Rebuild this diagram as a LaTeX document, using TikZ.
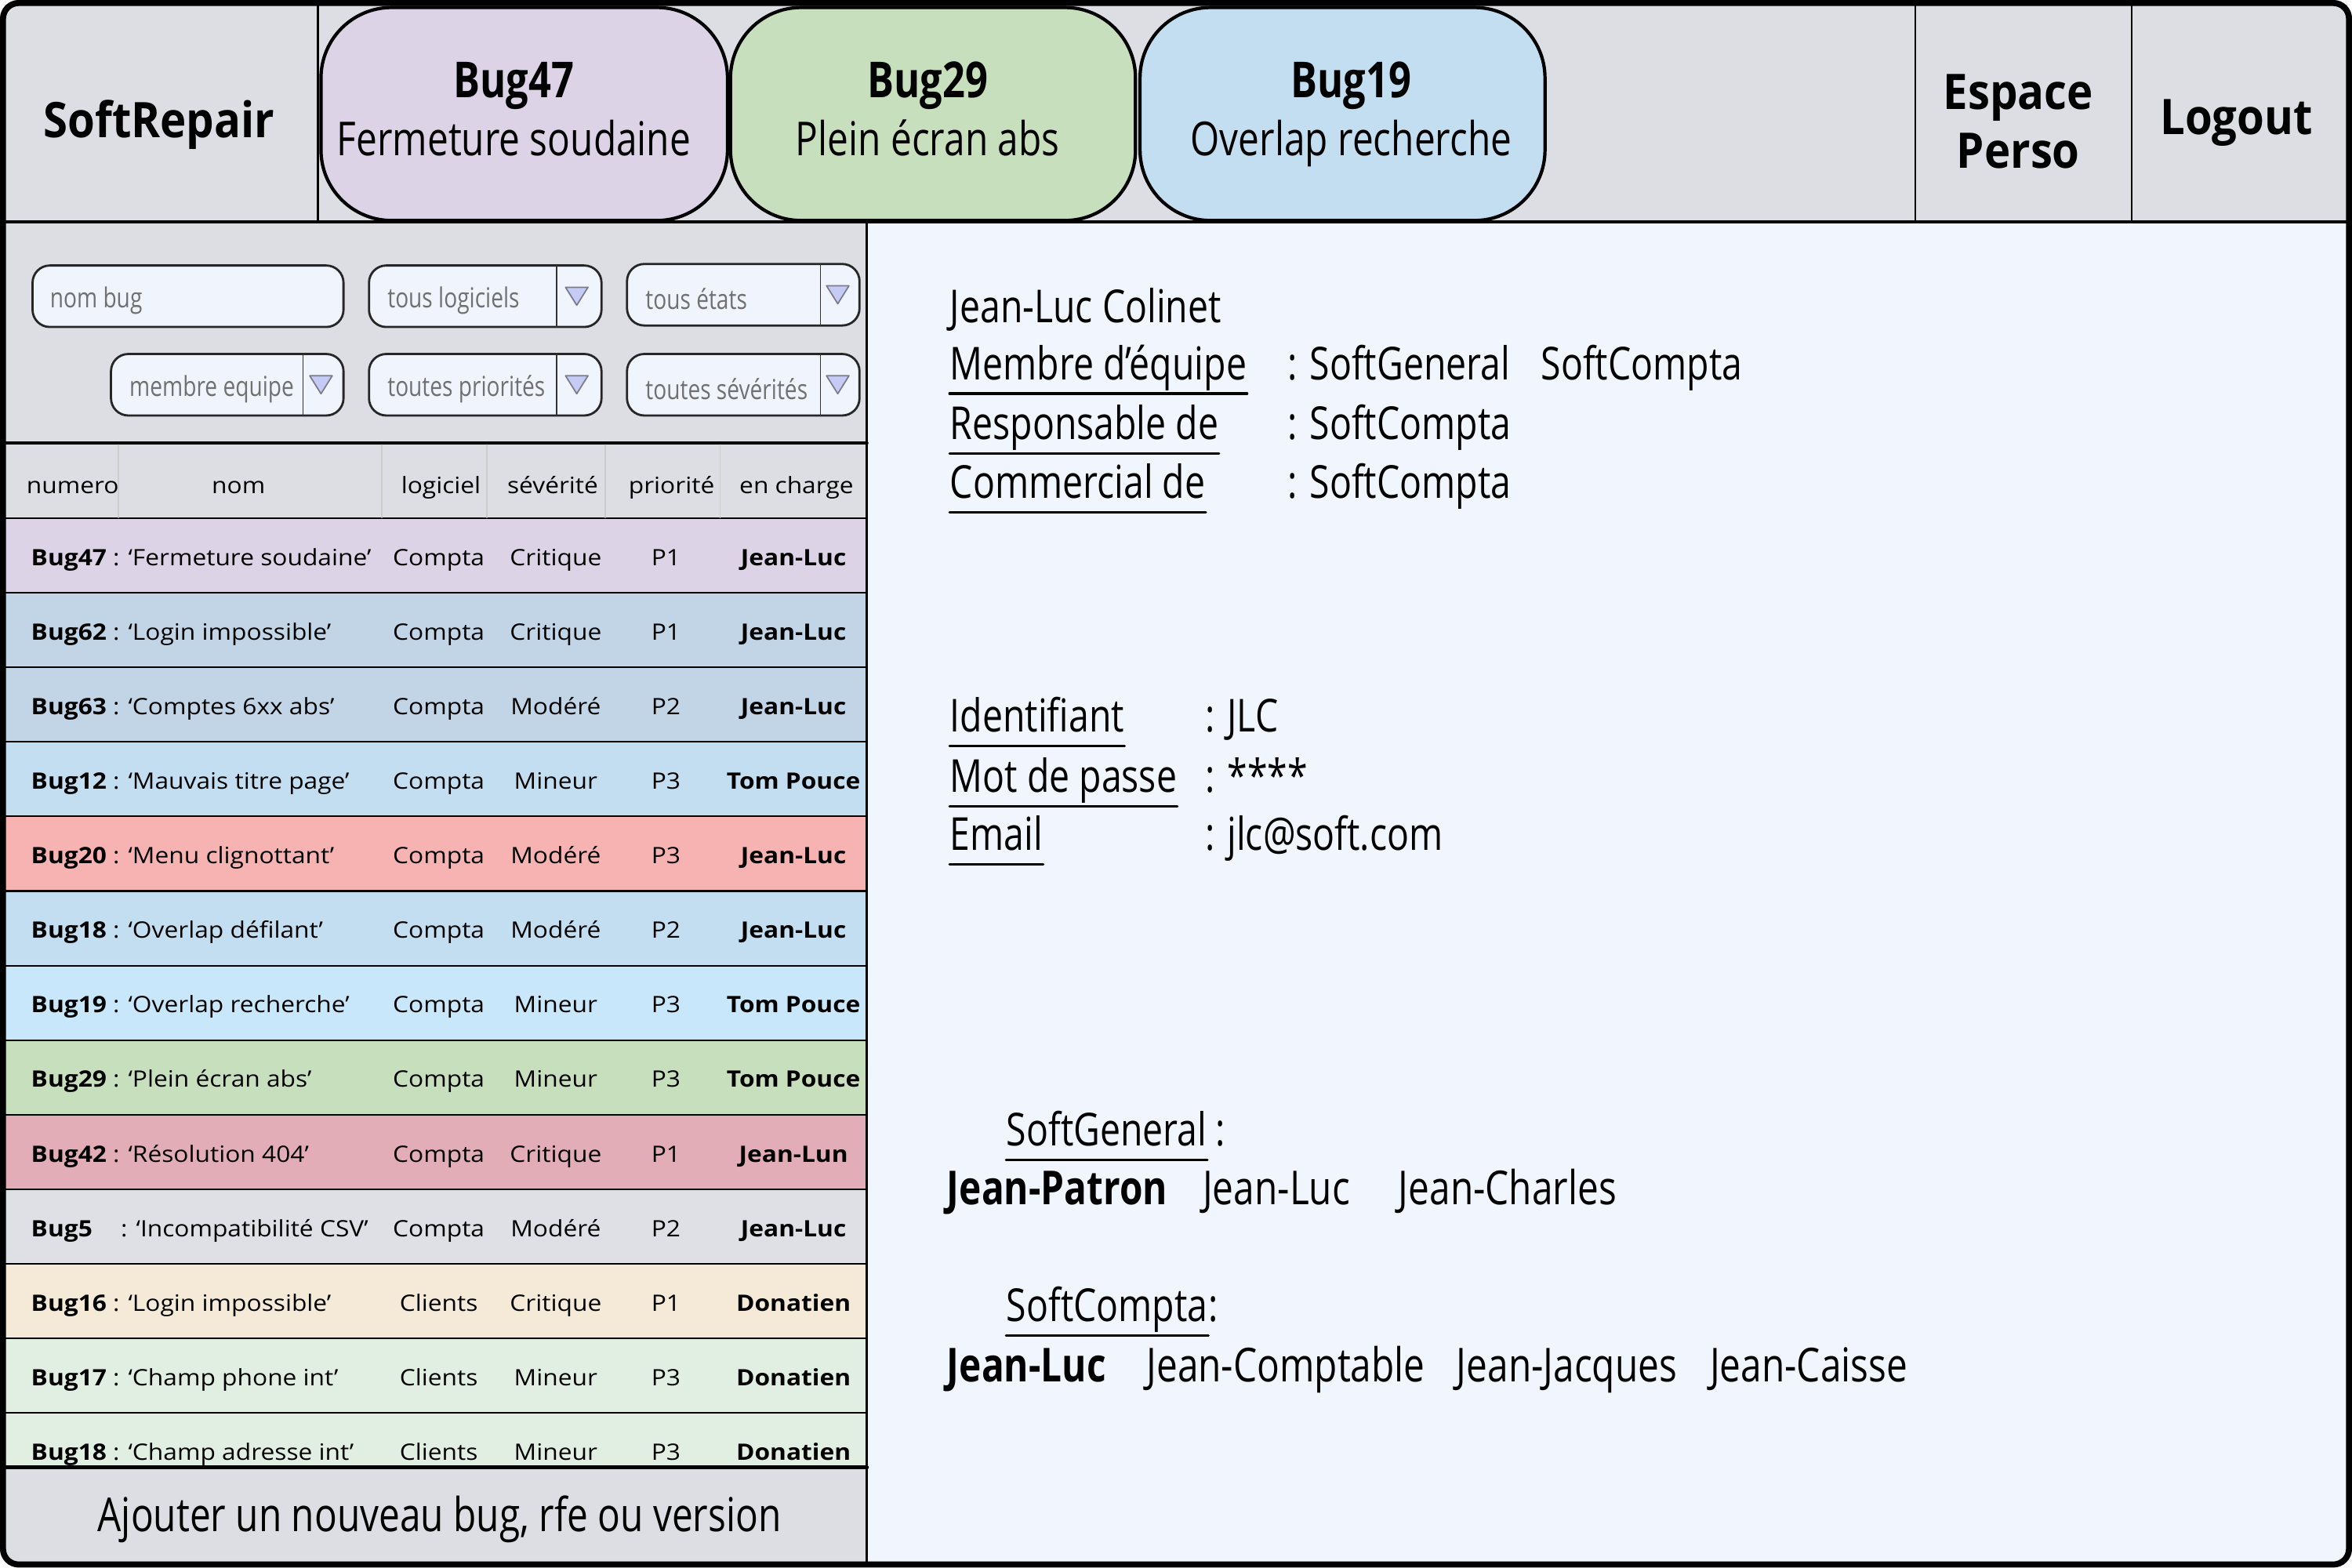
\documentclass[tikz,border=0pt]{standalone}
\usepackage{fontspec}
\setmainfont{Open Sans}
\newfontfamily\condfont{Open Sans}[FakeStretch=0.8]
\newfontfamily\headfont{Open Sans}[FakeStretch=0.9]
\newfontfamily\tablefont{Open Sans}[FakeStretch=1.1]
\definecolor{barbg}{HTML}{DDDEE3}
\definecolor{panelbg}{HTML}{F1F5FE}
\definecolor{filterfill}{HTML}{EFF4FD}
\definecolor{filtergray}{HTML}{707070}
\definecolor{trifill}{HTML}{C6CBF6}
\definecolor{trigray}{HTML}{7C7C8C}
\definecolor{bugmauve}{HTML}{DCD3E7}
\definecolor{bugslate}{HTML}{C2D5E7}
\definecolor{bugsky}{HTML}{C3DEF1}
\definecolor{bugrose}{HTML}{F7B3B2}
\definecolor{bugcyan}{HTML}{C8E7FA}
\definecolor{buggreen}{HTML}{C8DFBE}
\definecolor{bugpink}{HTML}{E3ADB7}
\definecolor{buggray}{HTML}{DFE0E6}
\definecolor{bugcream}{HTML}{F4EAD7}
\definecolor{bugmint}{HTML}{E1EFE2}
\begin{document}
\begin{tikzpicture}[x=0.0191327cm,y=-0.0191327cm,line join=round,line cap=round,
	frame/.style={line width=2.2pt,rounded corners=0.2cm},
	tabbox/.style={draw,line width=1.2pt,rounded corners=0.9cm},
	headtext/.style={font=\headfont\bfseries\fontsize{17.8}{20}\selectfont,anchor=base,inner sep=0pt},
	tabnum/.style={font=\condfont\bfseries\fontsize{18}{20}\selectfont,anchor=base,inner sep=0pt},
	tabtitre/.style={font=\condfont\fontsize{17}{20}\selectfont,anchor=base,inner sep=0pt},
	filterbox/.style={draw=black!85,fill=filterfill,line width=0.8pt,rounded corners=0.22cm},
	filtertext/.style={font=\condfont\fontsize{10}{12}\selectfont,text=filtergray,anchor=west,inner sep=0pt},
	arrowtri/.style={draw=trigray,fill=trifill,line width=0.5pt},
	coltext/.style={font=\tablefont\fontsize{8.2}{10}\selectfont,anchor=base,inner sep=0pt},
	rowline/.style={line width=0.6pt},
	panel/.style={font=\condfont\fontsize{16.5}{20}\selectfont,anchor=base west,inner sep=0pt},
	ulabel/.style={panel,text depth=4.9pt},
	uline/.style={line width=0.9pt},
	member/.style={font=\condfont\fontsize{17}{20}\selectfont,anchor=base west,inner sep=0pt},
	chief/.style={member,font=\condfont\bfseries\fontsize{17}{20}\selectfont}]
	\useasboundingbox (0,0) rectangle (1568,1045);
	\begin{scope}
		\clip[rounded corners=0.2cm] (2,2) rectangle (1566,1043);
		\fill[barbg] (2,2) rectangle (1566,148);
		\fill[barbg] (2,148) rectangle (578,1043);
		\fill[panelbg] (578,148) rectangle (1566,1043);
		\foreach \i/\id/\nom/\logi/\sev/\prio/\who/\col in {
			1/Bug47/Fermeture soudaine/Compta/Critique/P1/Jean-Luc/bugmauve,
			2/Bug62/Login impossible/Compta/Critique/P1/Jean-Luc/bugslate,
			3/Bug63/Comptes 6xx abs/Compta/Modéré/P2/Jean-Luc/bugslate,
			4/Bug12/Mauvais titre page/Compta/Mineur/P3/Tom Pouce/bugsky,
			5/Bug20/Menu clignottant/Compta/Modéré/P3/Jean-Luc/bugrose,
			6/Bug18/Overlap défilant/Compta/Modéré/P2/Jean-Luc/bugsky,
			7/Bug19/Overlap recherche/Compta/Mineur/P3/Tom Pouce/bugcyan,
			8/Bug29/Plein écran abs/Compta/Mineur/P3/Tom Pouce/buggreen,
			9/Bug42/Résolution 404/Compta/Critique/P1/Jean-Lun/bugpink,
			10/{Bug5\hspace{8pt}}/Incompatibilité CSV/Compta/Modéré/P2/Jean-Luc/buggray,
			11/Bug16/Login impossible/Clients/Critique/P1/Donatien/bugcream,
			12/Bug17/Champ phone int/Clients/Mineur/P3/Donatien/bugmint,
			13/Bug18/Champ adresse int/Clients/Mineur/P3/Donatien/bugmint}
		{
			\pgfmathsetmacro\yt{345.5+49.7*(\i-1)}
			\fill[\col] (2,\yt) rectangle (578,\yt+49.7);
			\draw[rowline] (2,\yt) -- (578,\yt);
			\node[coltext,anchor=base west] (bugid\i) at (20.4,\yt+31.5) {\textbf{\id} : ‘\nom’};
			\node[coltext] (logi\i) at (292.5,\yt+31.5) {\logi};
			\node[coltext] (sev\i) at (370.5,\yt+31.5) {\sev};
			\node[coltext] (prio\i) at (444,\yt+31.5) {\prio};
			\node[coltext,font=\tablefont\bfseries\fontsize{8.2}{10}\selectfont] (who\i) at (529,\yt+31.5) {\who};
		}
		\fill[barbg] (2,978.4) rectangle (578,1043);
	\end{scope}
	\draw[line width=1pt] (2,148) -- (1566,148);
	\foreach \x in {212,1277,1421}
	{
		\draw[line width=0.7pt] (\x,2) -- (\x,148);
	}
	\draw[line width=0.8pt] (578,148) -- (578,1043);
	\draw[line width=1.1pt] (2,295.5) -- (578,295.5);
	\draw[line width=1.4pt] (2,978.4) -- (578,978.4);
	\foreach \x in {79,254.5,324.6,403.6,480}
	{
		\draw[gray!40,line width=0.4pt] (\x,296.5) -- (\x,345);
	}
	\node[headtext] (soft) at (106,91.5) {SoftRepair};
	\node[headtext] (espace) at (1345.5,72.8) {Espace};
	\node[headtext] (perso) at (1345.5,112) {Perso};
	\node[headtext] (logout) at (1491,89.6) {Logout};
	\foreach \xa/\xb/\xc/\num/\titre/\col in {
		214/485/342.6/47/Fermeture soudaine/bugmauve,
		487/757/618.4/29/Plein écran abs/buggreen,
		760/1030/900.8/19/Overlap recherche/bugsky}
	{
		\draw[tabbox,fill=\col] (\xa,5) rectangle (\xb,147);
		\node[tabnum] (tabnum\num) at (\xc,65.3) {Bug\num};
		\node[tabtitre] (tabtitre\num) at (\xc,103.6) {\titre};
	}
	\draw[filterbox] (21.7,177) rectangle (229,218);
	\node[filtertext] (nombug) at (33,200.5) {nom bug};
	\foreach \k/\xa/\xb/\xd/\ya/\yb/\txt in {
		1/246/401/371/177/218/tous logiciels,
		2/418/573/547/176/217/tous états,
		3/74/229/202/236/277/membre equipe,
		4/246/401/371/236/277/toutes priorités,
		5/418/573/547/236/277/toutes sévérités}
	{
		\pgfmathsetmacro\cx{(\xd+\xb)/2-1.5}
		\pgfmathsetmacro\cy{(\ya+\yb)/2}
		\draw[filterbox] (\xa,\ya) rectangle (\xb,\yb);
		\draw[black!80,line width=0.5pt] (\xd,\ya) -- (\xd,\yb);
		\draw[arrowtri] (\cx-7.5,\cy-6) -- (\cx+7.5,\cy-6) -- (\cx,\cy+6) -- cycle;
		\node[filtertext] (filtre\k) at (\xa+12,\cy+3) {\txt};
	}
	\node[coltext] (hnum) at (48.5,329) {numero};
	\node[coltext] (hnom) at (159,329) {nom};
	\node[coltext] (hlogi) at (294,329) {logiciel};
	\node[coltext] (hsev) at (368.5,329) {sévérité};
	\node[coltext] (hprio) at (447.7,329) {priorité};
	\node[coltext] (hwho) at (531,329) {en charge};
	\node[tabtitre] (ajout) at (293,1021) {Ajouter un nouveau bug, rfe ou version};
	\node[panel] (nomcomplet) at (633,215) {Jean-Luc Colinet};
	\foreach \n/\y/\xv/\lab/\val in {
		membre/253/858/Membre d’équipe/: SoftGeneral,
		resp/292.8/858/Responsable de/: SoftCompta,
		comm/332/858/Commercial de/: SoftCompta,
		ident/488/803/Identifiant/: JLC,
		mdp/528/803/Mot de passe/: ****,
		email/567/803/Email/: jlc@soft.com}
	{
		\node[ulabel] (\n) at (633,\y) {\lab};
		\draw[uline] (\n.south west) -- (\n.south east);
		\node[panel] (\n val) at (\xv,\y) {\val};
	}
	\node[panel] (membreval2) at (1027,253) {SoftCompta};
	\node[ulabel] (sgen) at (670.7,764) {SoftGeneral};
	\draw[uline] (sgen.south west) -- (sgen.south east);
	\node[panel] (sgencol) at (sgen.base east) {\,:};
	\node[chief] (patron) at (631,803) {Jean-Patron};
	\node[member] (gluc) at (801.5,803) {Jean-Luc};
	\node[member] (gcharles) at (932,803) {Jean-Charles};
	\node[ulabel] (scompta) at (670.7,881) {SoftCompta};
	\draw[uline] (scompta.south west) -- (scompta.south east);
	\node[panel] (scomptacol) at (scompta.base east) {:};
	\node[chief] (cluc) at (631,921) {Jean-Luc};
	\node[member] (ccomptable) at (764,921) {Jean-Comptable};
	\node[member] (cjacques) at (970.7,921) {Jean-Jacques};
	\node[member] (ccaisse) at (1139.6,921) {Jean-Caisse};
	\draw[frame] (2,2) rectangle (1566,1043);
\end{tikzpicture}
\end{document}
